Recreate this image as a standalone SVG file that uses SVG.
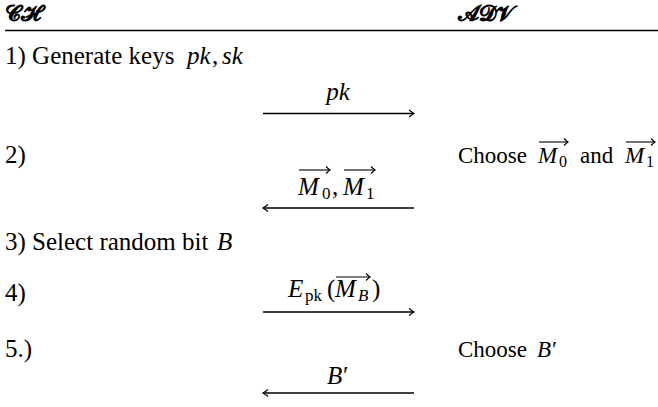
<svg xmlns="http://www.w3.org/2000/svg" width="658" height="407" viewBox="0 0 658 407">
<g id="header">
<text x="5" y="21" font-family="DejaVu Sans" font-size="22" font-weight="bold">&#x1D4D2;&#x1D4D7;</text>
<text x="458" y="21" font-family="DejaVu Sans" font-size="22" font-weight="bold">&#x1D4D0;&#x1D4D3;&#x1D4E5;</text>
<line x1="5" y1="30.5" x2="658" y2="30.5" stroke="#000" stroke-width="1.3"/>
</g>

<g id="step1">
<text x="5" y="64" font-family="Liberation Serif" font-size="25">1) Generate keys</text>
<text x="187" y="64" font-family="Liberation Serif" font-size="25" font-style="italic">pk</text>
<text x="212" y="64" font-family="Liberation Serif" font-size="25">,</text>
<text x="222" y="64" font-family="Liberation Serif" font-size="25" font-style="italic">sk</text>
</g>

<g id="step2">
<text x="5" y="163" font-family="Liberation Serif" font-size="25">2)</text>
<text x="458" y="163" font-family="Liberation Serif" font-size="23">Choose</text>
<text x="538" y="163" font-family="Liberation Serif" font-size="23" font-style="italic">M</text>
<text x="559" y="167" font-family="Liberation Serif" font-size="16">0</text>
<text x="580" y="163" font-family="Liberation Serif" font-size="23">and</text>
<text x="625" y="163" font-family="Liberation Serif" font-size="23" font-style="italic">M</text>
<text x="646" y="167" font-family="Liberation Serif" font-size="16">1</text>
<g stroke="#000" stroke-width="1.1" fill="none">
<line x1="539" y1="142" x2="568" y2="142"/>
<path d="M564,138.5 Q566.8,141.4 568,142 Q566.8,142.6 564,145.5"/>
<line x1="626" y1="142" x2="655" y2="142"/>
<path d="M651,138.5 Q653.8,141.4 655,142 Q653.8,142.6 651,145.5"/>
</g>
</g>

<g id="step3">
<text x="5" y="250" font-family="Liberation Serif" font-size="25">3) Select random bit</text>
<text x="217" y="250" font-family="Liberation Serif" font-size="25" font-style="italic">B</text>
</g>

<g id="step4">
<text x="5" y="301" font-family="Liberation Serif" font-size="25">4)</text>
</g>

<g id="step5">
<text x="5" y="357" font-family="Liberation Serif" font-size="25">5.)</text>
<text x="458" y="357" font-family="Liberation Serif" font-size="23">Choose</text>
<text x="537" y="357" font-family="Liberation Serif" font-size="23" font-style="italic">B</text>
<text x="552" y="357" font-family="Liberation Serif" font-size="23">&#x2032;</text>
</g>

<g id="connectors" stroke="#000" fill="none">
<g id="msg-pk">
<line x1="263" y1="113.5" x2="414" y2="113.5" stroke-width="1.3"/>
<path d="M409,110 Q412.6,112.8 414,113.5 Q412.6,114.2 409,117" stroke-width="1.1"/>
<text x="338" y="100" text-anchor="middle" font-family="Liberation Serif" font-size="25" font-style="italic" fill="#000" stroke="none">pk</text>
</g>
<g id="msg-M">
<line x1="414" y1="208" x2="263" y2="208" stroke-width="1.3"/>
<path d="M268,204.5 Q264.4,207.3 263,208 Q264.4,208.7 268,211.5" stroke-width="1.1"/>
<text x="298" y="195" font-family="Liberation Serif" font-size="25" font-style="italic" fill="#000" stroke="none">M</text>
<text x="322" y="199" font-family="Liberation Serif" font-size="17" fill="#000" stroke="none">0</text>
<text x="332" y="195" font-family="Liberation Serif" font-size="25" fill="#000" stroke="none">,</text>
<text x="343" y="195" font-family="Liberation Serif" font-size="25" font-style="italic" fill="#000" stroke="none">M</text>
<text x="366" y="199" font-family="Liberation Serif" font-size="17" fill="#000" stroke="none">1</text>
<line x1="299" y1="170" x2="330" y2="170" stroke-width="1.1"/>
<path d="M326,166.5 Q328.8,169.4 330,170 Q328.8,170.6 326,173.5" stroke-width="1.1"/>
<line x1="344" y1="170" x2="375" y2="170" stroke-width="1.1"/>
<path d="M371,166.5 Q373.8,169.4 375,170 Q373.8,170.6 371,173.5" stroke-width="1.1"/>
</g>
<g id="msg-E">
<line x1="263" y1="312" x2="414" y2="312" stroke-width="1.3"/>
<path d="M409,308.5 Q412.6,311.3 414,312 Q412.6,312.7 409,315.5" stroke-width="1.1"/>
<text x="288" y="297" font-family="Liberation Serif" font-size="25" font-style="italic" fill="#000" stroke="none">E</text>
<text x="305" y="301" font-family="Liberation Serif" font-size="17" fill="#000" stroke="none">pk</text>
<text x="327" y="297" font-family="Liberation Serif" font-size="25" fill="#000" stroke="none">(</text>
<text x="335" y="297" font-family="Liberation Serif" font-size="25" font-style="italic" fill="#000" stroke="none">M</text>
<text x="358" y="301" font-family="Liberation Serif" font-size="17" font-style="italic" fill="#000" stroke="none">B</text>
<text x="372" y="297" font-family="Liberation Serif" font-size="25" fill="#000" stroke="none">)</text>
<line x1="336" y1="277" x2="370" y2="277" stroke-width="1.1"/>
<path d="M366,273.5 Q368.8,276.4 370,277 Q368.8,277.6 366,280.5" stroke-width="1.1"/>
</g>
<g id="msg-B">
<line x1="414" y1="393" x2="263" y2="393" stroke-width="1.3"/>
<path d="M268,389.5 Q264.4,392.3 263,393 Q264.4,393.7 268,396.5" stroke-width="1.1"/>
<text x="327" y="384" font-family="Liberation Serif" font-size="25" font-style="italic" fill="#000" stroke="none">B</text>
<text x="343" y="384" font-family="Liberation Serif" font-size="25" fill="#000" stroke="none">&#x2032;</text>
</g>
</g>
</svg>
